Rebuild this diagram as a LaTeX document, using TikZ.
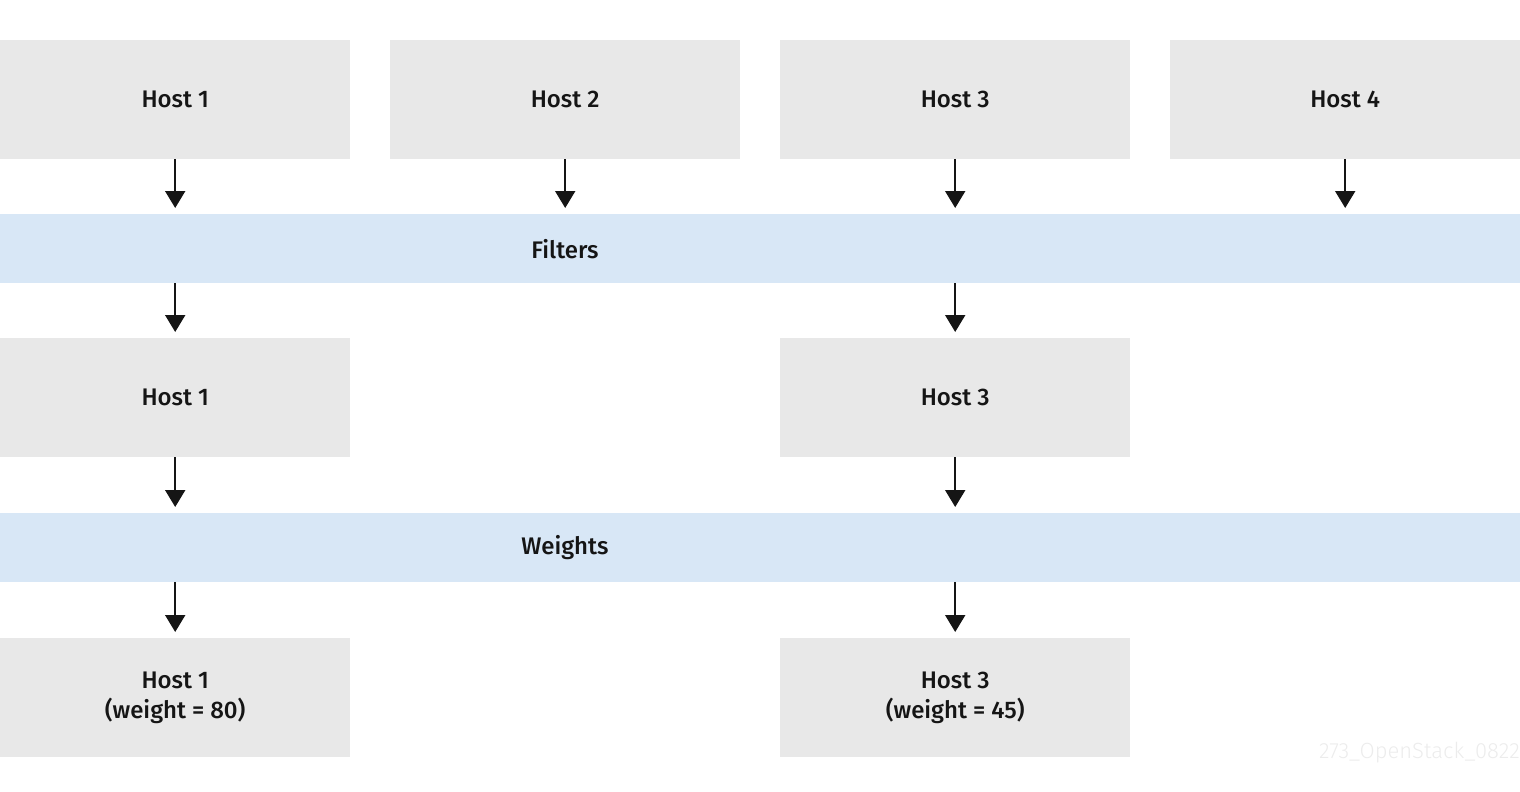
\documentclass[tikz,border=0pt]{standalone}
\usepackage{fontspec}
\setmainfont{Fira Sans}[UprightFont={* Medium}]
\newfontfamily\wmfont{Fira Sans}[UprightFont={* Light}]
\usetikzlibrary{arrows.meta}
\definecolor{boxgray}{RGB}{232,232,232}
\definecolor{bandblue}{RGB}{216,231,246}
\definecolor{wmgray}{RGB}{236,236,236}
\definecolor{ink}{RGB}{21,21,21}
\begin{document}
\begin{tikzpicture}[x=1pt,y=-1pt,
  hostbox/.style={fill=boxgray,draw=none,minimum width=350pt,minimum height=119pt,inner sep=0pt,anchor=north west,font=\fontsize{24}{30}\selectfont,text=ink,align=center},
  band/.style={fill=bandblue,draw=none,minimum width=1520pt,minimum height=69pt,inner sep=0pt,anchor=north west},
  bandlabel/.style={font=\fontsize{24}{30}\selectfont,text=ink},
  flow/.style={draw=ink,line width=2pt,-{Triangle[width=20pt,length=17pt]},shorten >=6pt}]
\useasboundingbox (0,0) rectangle (1520,792);
\node[hostbox] (h1) at (0,40) {Host 1};
\node[hostbox] (h2) at (390,40) {Host 2};
\node[hostbox] (h3) at (780,40) {Host 3};
\node[hostbox] (h4) at (1170,40) {Host 4};
\node[band] (filters) at (0,214) {};
\node[bandlabel] (flab) at (565,249) {Filters};
\node[hostbox] (f1) at (0,338) {Host 1};
\node[hostbox] (f3) at (780,338) {Host 3};
\node[band] (weights) at (0,513) {};
\node[bandlabel] (wlab) at (565,548) {Weights};
\node[hostbox] (w1) at (0,638) {Host 1\\(weight = 80)};
\node[hostbox] (w3) at (780,638) {Host 3\\(weight = 45)};
\node[anchor=base east,inner sep=0pt,text=wmgray,font=\wmfont\fontsize{22}{24}\selectfont] (wm) at (1520,758) {273\_OpenStack\_0822};
\foreach \h in {h1,h2,h3,h4}
  \draw[flow] (\h.south) -- (\h.south |- filters.north);
\draw[flow] (h1.south |- filters.south) -- (f1.north);
\draw[flow] (h3.south |- filters.south) -- (f3.north);
\draw[flow] (f1.south) -- (f1.south |- weights.north);
\draw[flow] (f3.south) -- (f3.south |- weights.north);
\draw[flow] (f1.south |- weights.south) -- (w1.north);
\draw[flow] (f3.south |- weights.south) -- (w3.north);
\end{tikzpicture}
\end{document}
